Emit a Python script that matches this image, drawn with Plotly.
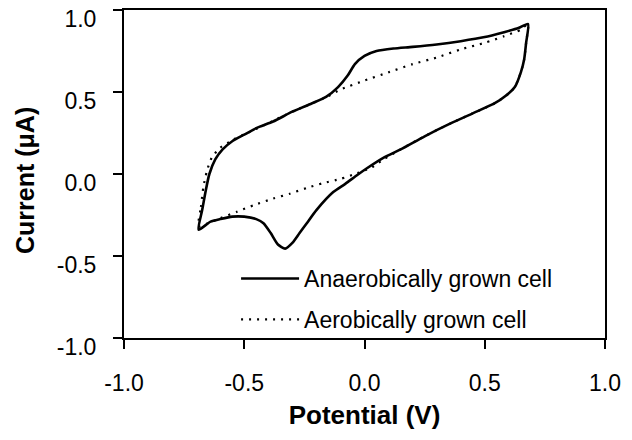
import plotly.graph_objects as go

# Anaerobically grown cell (solid) - cyclic voltammogram loop
anaer_x = [-0.69, -0.675, -0.66, -0.645, -0.62, -0.59, -0.55, -0.50, -0.45, -0.38, -0.30, -0.22,
           -0.16, -0.11, -0.07, -0.04, 0.00, 0.05, 0.12, 0.20, 0.30, 0.40, 0.50, 0.58, 0.64, 0.68,
           0.672, 0.664, 0.65, 0.625, 0.59, 0.54, 0.45, 0.36, 0.25, 0.15, 0.08, 0.01, -0.03, -0.08,
           -0.13, -0.20, -0.24, -0.27, -0.30, -0.33, -0.36, -0.39, -0.42, -0.45, -0.50, -0.55, -0.60,
           -0.64, -0.69]
anaer_y = [-0.34, -0.22, -0.10, 0.00, 0.09, 0.15, 0.20, 0.24, 0.28, 0.32, 0.38, 0.43,
           0.47, 0.53, 0.60, 0.67, 0.72, 0.75, 0.765, 0.775, 0.79, 0.81, 0.835, 0.865, 0.89, 0.915,
           0.80, 0.70, 0.62, 0.53, 0.48, 0.43, 0.37, 0.31, 0.23, 0.15, 0.10, 0.035, -0.006, -0.06,
           -0.11, -0.22, -0.30, -0.36, -0.42, -0.455, -0.43, -0.36, -0.30, -0.275, -0.26, -0.26, -0.275,
           -0.29, -0.34]

# Aerobically grown cell (dotted)
aer_x = [-0.69, -0.68, -0.67, -0.655, -0.635, -0.60, -0.545, -0.48, -0.40, -0.30, -0.22, -0.15,
         -0.10, 0.00, 0.10, 0.20, 0.30, 0.40, 0.50, 0.58, 0.65, 0.68,
         0.672, 0.664, 0.65, 0.625, 0.59, 0.54, 0.45, 0.36, 0.25, 0.15, 0.08, 0.03, -0.03, -0.10,
         -0.17, -0.24, -0.31, -0.38, -0.46, -0.53, -0.60, -0.65, -0.69]
aer_y = [-0.32, -0.20, -0.08, 0.02, 0.10, 0.16, 0.21, 0.255, 0.31, 0.38, 0.43, 0.475,
         0.515, 0.57, 0.62, 0.67, 0.71, 0.76, 0.80, 0.84, 0.88, 0.915,
         0.80, 0.70, 0.62, 0.53, 0.48, 0.43, 0.37, 0.31, 0.23, 0.15, 0.09, 0.04, 0.005, -0.03,
         -0.055, -0.085, -0.12, -0.15, -0.19, -0.23, -0.27, -0.30, -0.32]

x_ticks = [-1.0, -0.5, 0.0, 0.5, 1.0]
y_ticks = [-1.0, -0.5, 0.0, 0.5, 1.0]

FONT = "Liberation Sans, Arial, Helvetica, sans-serif"

fig = go.Figure()
fig.add_trace(go.Scatter(x=anaer_x, y=anaer_y, mode="lines", name="Anaerobically grown cell",
                         line=dict(color="black", width=2.6, shape="spline", smoothing=0.6),
                         legendgroup="a"))
fig.add_trace(go.Scatter(x=aer_x, y=aer_y, mode="lines", name="Aerobically grown cell",
                         line=dict(color="black", width=2.2, dash="2px,6px", shape="spline", smoothing=0.6),
                         legendgroup="b"))

axis_common = dict(showline=True, linecolor="black", linewidth=2, mirror=True,
                   ticks="outside", ticklen=9, tickwidth=1.5, tickcolor="black",
                   showgrid=False, zeroline=False, ticklabeloverflow="allow",
                   automargin=False,
                   tickfont=dict(family=FONT, size=23, color="black"))

fig.update_layout(
    width=632, height=440,
    margin=dict(l=124, r=27, t=10, b=102),
    paper_bgcolor="white", plot_bgcolor="white",
    showlegend=True,
    legend=dict(x=0.233, y=0.247, xanchor="left", yanchor="top",
                bgcolor="rgba(0,0,0,0)", borderwidth=0,
                font=dict(family=FONT, size=23, color="black"),
                traceorder="grouped", tracegroupgap=8, itemwidth=58),
    xaxis=dict(range=[-1.0, 1.0], tickvals=x_ticks, ticktext=[f"{v:.1f}" for v in x_ticks],
               ticklabelstandoff=14,
               title=dict(text="<b>Potential (V)</b>", font=dict(family=FONT, size=26, color="black"),
                          standoff=11),
               **axis_common),
    yaxis=dict(range=[-1.0, 1.0], tickvals=y_ticks, ticktext=[f"{v:.1f}" for v in y_ticks],
               ticklabelstandoff=12, ticklabelshift=9,
               **axis_common),
    annotations=[dict(text="<b>Current (μA)</b>", xref="paper", yref="paper",
                      x=-0.2058, y=0.4787, xanchor="center", yanchor="middle",
                      textangle=-90, showarrow=False,
                      font=dict(family=FONT, size=25, color="black"))],
)

fig.write_html("out.html", config={"displayModeBar": False},
               post_script="document.body.style.margin='0';")
